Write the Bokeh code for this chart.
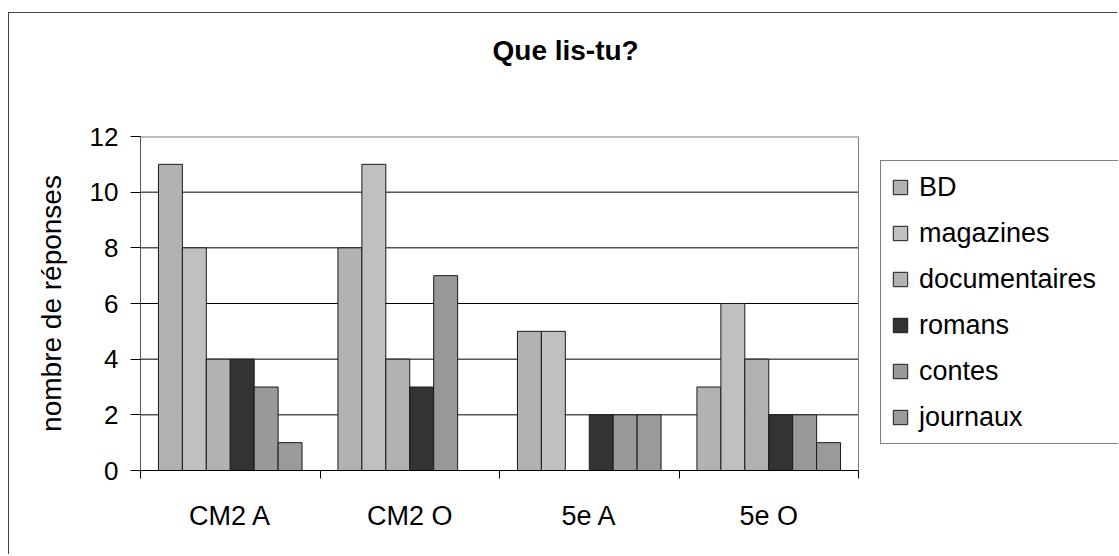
from bokeh.plotting import figure
from bokeh.models import (Range1d, LinearAxis, FixedTicker,
                          Legend, LegendItem, Title, ColumnDataSource)
from bokeh.transform import dodge
from bokeh.embed import file_html
from bokeh.resources import INLINE

# ---- data ----
groups = ["CM2 A", "CM2 O", "5e A", "5e O"]
series = ["BD", "magazines", "documentaires", "romans", "contes", "journaux"]
bd = [11, 8, 5, 3]
magazines = [8, 11, 5, 6]
documentaires = [4, 4, 0, 4]
romans = [4, 3, 2, 2]
contes = [3, 7, 2, 2]
journaux = [1, 0, 2, 1]
y_ticks = [0, 2, 4, 6, 8, 10, 12]
title_text = "Que lis-tu?"
y_label = "nombre de réponses"

values = [bd, magazines, documentaires, romans, contes, journaux]
colors = ["#b2b2b2", "#c0c0c0", "#b2b2b2", "#333333", "#999999", "#9a9a9a"]

FONT = "Liberation Sans"

n = len(groups)
centers = [i + 0.5 for i in range(n)]

# layout geometry (pixels)
FRAME_LEFT, PLOT_RIGHT, CANVAS_RIGHT = 140, 858, 1118
x_end = n * (CANVAS_RIGHT - FRAME_LEFT) / (PLOT_RIGHT - FRAME_LEFT)
y_max = y_ticks[-1]

p = figure(title=title_text, x_range=Range1d(0, x_end), y_range=Range1d(0, y_max),
           width=1109, height=542, output_backend="svg", toolbar_location=None,
           x_axis_location=None, y_axis_location=None,
           min_border_left=131, min_border_top=123, min_border_right=0,
           min_border_bottom=85)
p.margin = (12, 0, 0, 8)
p.styles = {"border-left": "1px solid #444444", "border-top": "1px solid #444444"}
p.outline_line_color = None
p.background_fill_color = "white"
p.border_fill_color = "white"
p.xgrid.visible = False
p.ygrid.visible = False

# gridlines and plot-area border, limited to the category span
inner = y_ticks[1:-1]
p.segment(x0=[0] * len(inner), x1=[n] * len(inner), y0=inner, y1=inner,
          line_color="#000000", line_width=1)
p.segment(x0=[0], x1=[n], y0=[y_max], y1=[y_max], line_color="#808080", line_width=2)
p.segment(x0=[n], x1=[n], y0=[0], y1=[y_max], line_color="#808080", line_width=1)

src = ColumnDataSource(dict(xc=centers, **{s: v for s, v in zip(series, values)}))

bar_w = 24 / 180
offsets = [(-2.5 + k) * bar_w for k in range(6)]
renderers = []
for s, c, off in zip(series, colors, offsets):
    r = p.vbar(x=dodge("xc", off), top=s, width=bar_w, bottom=0,
               source=src, fill_color=c, line_color="#1a1a1a", line_width=1)
    renderers.append(r)

# y axis
yaxis = LinearAxis(ticker=FixedTicker(ticks=y_ticks))
yaxis.axis_line_color = "#555555"
yaxis.axis_line_width = 1
yaxis.major_tick_line_color = "#000000"
yaxis.major_tick_out = 10
yaxis.major_tick_in = 0
yaxis.minor_tick_line_color = None
yaxis.major_label_text_font = FONT
yaxis.major_label_text_font_size = "26px"
yaxis.major_label_text_color = "#000000"
yaxis.major_label_standoff = 12
yaxis.axis_label = y_label
yaxis.axis_label_text_font = FONT
yaxis.axis_label_text_font_size = "28px"
yaxis.axis_label_text_font_style = "normal"
yaxis.axis_label_text_color = "#000000"
yaxis.axis_label_standoff = 20
p.add_layout(yaxis, "left")

# x boundary ticks axis
tick_axis = LinearAxis(ticker=FixedTicker(ticks=list(range(n + 1))), bounds=(0, n))
tick_axis.axis_line_color = "#000000"
tick_axis.major_tick_line_color = "#000000"
tick_axis.major_tick_out = 8
tick_axis.major_tick_in = 0
tick_axis.minor_tick_line_color = None
tick_axis.major_label_text_font_size = "1px"
tick_axis.major_label_text_color = None
tick_axis.major_label_standoff = 0
p.add_layout(tick_axis, "below")

cat_axis = LinearAxis(ticker=FixedTicker(ticks=centers),
                      major_label_overrides={c: g for c, g in zip(centers, groups)})
cat_axis.axis_line_color = None
cat_axis.major_tick_line_color = None
cat_axis.minor_tick_line_color = None
cat_axis.major_label_text_font = FONT
cat_axis.major_label_text_font_size = "27px"
cat_axis.major_label_text_color = "#000000"
cat_axis.major_label_standoff = 16
p.add_layout(cat_axis, "below")

# title (spacer title sits between real title and frame)
spacer = Title(text=" ", text_font_size="2px", standoff=67)
p.add_layout(spacer, "above")
p.title.align = "left"
p.title.offset = 352
p.title.text_font = FONT
p.title.text_font_size = "28px"
p.title.text_font_style = "bold"
p.title.text_color = "#000000"
p.title.standoff = 0

# legend
legend = Legend(items=[LegendItem(label=s, renderers=[r]) for s, r in zip(series, renderers)],
                location=(740, 26))
legend.border_line_color = "#000000"
legend.border_line_width = 1
legend.background_fill_color = "white"
legend.background_fill_alpha = 1
legend.label_text_font = FONT
legend.label_text_font_size = "27px"
legend.label_text_color = "#000000"
legend.glyph_width = 18
legend.glyph_height = 18
legend.label_height = 32
legend.label_width = 200
legend.label_standoff = 10
legend.spacing = 14
legend.margin = 0
legend.padding = 10
p.add_layout(legend, "center")

open("out.html", "w").write(file_html(p, INLINE))
